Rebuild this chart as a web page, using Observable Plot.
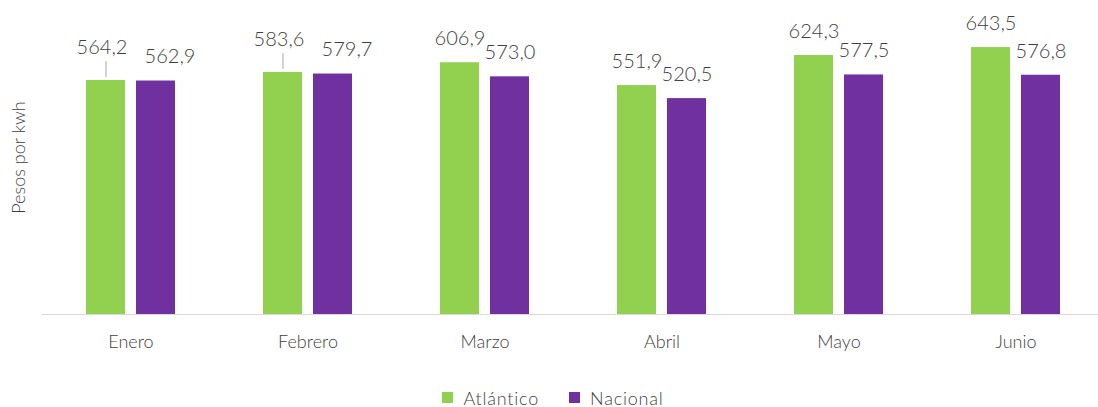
<!DOCTYPE html>
<html>
<head>
<meta charset="utf-8">
<script src="https://cdn.jsdelivr.net/npm/d3@7"></script>
<script src="https://cdn.jsdelivr.net/npm/@observablehq/plot@0.6"></script>
<style>
  html, body { margin: 0; padding: 0; background: #fff; overflow: hidden; }
  #legend { display: flex; justify-content: center; align-items: center; height: 27px;
            padding-top: 4px; padding-left: 8px; font-family: Lato, sans-serif; font-size: 18px; font-weight: 300;
            color: #3f3f3f; letter-spacing: 0.8px; }
  #legend .item { display: flex; align-items: center; margin: 0 15px; }
  #legend .sw { width: 11px; height: 11px; margin-right: 10px; }
</style>
</head>
<body>
<div id="chart"></div>
<div id="legend"></div>
<script>
const months = ["Enero", "Febrero", "Marzo", "Abril", "Mayo", "Junio"];
const series = ["Atlántico", "Nacional"];
const atlantico = [564.2, 583.6, 606.9, 551.9, 624.3, 643.5];
const nacional = [562.9, 579.7, 573.0, 520.5, 577.5, 576.8];
const colors = ["#92D050", "#7030A0"];
const yLabel = "Pesos por kwh";

const data = [];
months.forEach((m, i) => {
  const close = Math.abs(atlantico[i] - nacional[i]) < 10;
  data.push({month: m, series: series[0], value: atlantico[i], close});
  data.push({month: m, series: series[1], value: nacional[i], close});
});

const fmt = v => v.toFixed(1).replace(".", ",");
const isA = d => d.series === series[0];
// labels that would collide are nudged apart (Excel-like), with a leader line
const normal = data.filter(d => !d.close);
const closeA = data.filter(d => d.close && isA(d));
const closeN = data.filter(d => d.close && !isA(d));
const labelOpts = {fx: "month", x: "series", y: "value", text: d => fmt(d.value),
  lineAnchor: "middle", fill: "#3f3f3f", fontSize: 20, fontWeight: 300, letterSpacing: 0.8};

const chart = Plot.plot({
  width: 1098,
  height: 380,
  marginLeft: 40,
  marginRight: -8,
  marginTop: 0,
  marginBottom: 66,
  style: {fontFamily: "Lato, sans-serif", fontSize: "18px", fontWeight: 300, color: "#3f3f3f", background: "#fff", overflow: "visible"},
  fx: {domain: months, padding: 0, label: null, tickSize: 0, tickPadding: 21},
  x: {domain: series, paddingInner: 0.2157, paddingOuter: 0.85, axis: null},
  y: {domain: [0, 757], axis: "left", ticks: [], tickSize: 0, label: yLabel,
      labelAnchor: "center", labelArrow: false, labelOffset: 30},
  color: {domain: series, range: colors},
  marks: [
    Plot.barY(data, {fx: "month", x: "series", y: "value", fill: "series"}),
    Plot.ruleY([0], {stroke: "#D9D9D9", strokeWidth: 1.2}),
    Plot.text(normal, {...labelOpts, dy: -24}),
    Plot.text(closeA, {...labelOpts, dy: -33, dx: -4}),
    Plot.text(closeN, {...labelOpts, dy: -24, dx: 14}),
    Plot.ruleX(closeA, {fx: "month", x: "series", y1: "value", y2: d => d.value + 38,
      stroke: "#A6A6A6", strokeWidth: 1, dy: -3})
  ]
});
document.getElementById("chart").appendChild(chart);

const legend = document.getElementById("legend");
series.forEach((s, i) => {
  const item = document.createElement("div");
  item.className = "item";
  const sw = document.createElement("div");
  sw.className = "sw";
  sw.style.background = colors[i];
  const t = document.createElement("span");
  t.textContent = s;
  item.appendChild(sw);
  item.appendChild(t);
  legend.appendChild(item);
});
</script>
</body>
</html>
